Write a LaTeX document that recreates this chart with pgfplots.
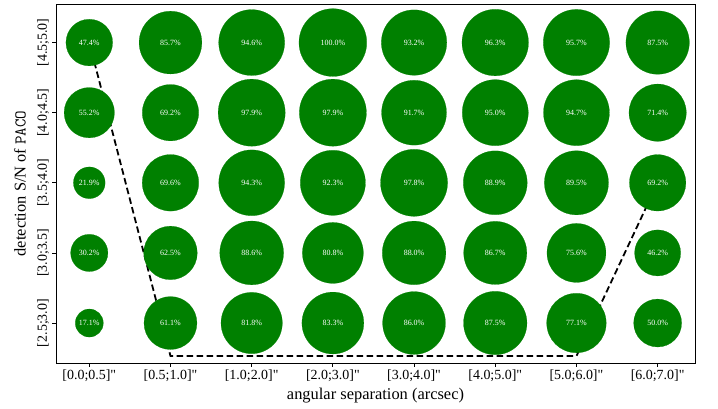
\documentclass[border=0pt]{standalone}
\usepackage{pgfplots}
\pgfplotsset{compat=1.18}
\usepackage{fontspec}
\setmainfont{Liberation Serif}
\newfontfamily\qfont{Liberation Serif}
\definecolor{mplgreen}{HTML}{008000}
\newcommand{\q}{{\qfont\symbol{34}}}
\begin{document}
\begin{tikzpicture}
\path[use as bounding box] (-56bp,-46bp) rectangle (662bp,363bp);
\begin{axis}[
  at={(0,0)}, anchor=south west,
  scale only axis, width=639bp, height=359bp,
  xmin=-0.41, xmax=7.46, ymin=-0.57, ymax=4.55,
  axis line style={line width=0.8bp, black},
  xtick={0,...,7}, ytick={0,...,4},
  xticklabels={{[0.0;0.5]\q},{[0.5;1.0]\q},{[1.0;2.0]\q},{[2.0;3.0]\q},{[3.0;4.0]\q},{[4.0;5.0]\q},{[5.0;6.0]\q},{[6.0;7.0]\q}},
  yticklabels={{[2.5;3.0]},{[3.0;3.5]},{[3.5;4.0]},{[4.0;4.5]},{[4.5;5.0]}},
  xtick pos=lower, ytick pos=left,
  tick align=outside, major tick length=3.5bp,
  every tick/.style={line width=0.8bp, black},
  ticklabel style={font=\fontsize{14}{16}\selectfont, text=black},
  yticklabel style={rotate=90, anchor=south},
  xlabel={angular separation (arcsec)},
  ylabel={detection S/N of \texttt{PACO}},
  label style={font=\fontsize{16.5}{18}\selectfont, text=black},
  xlabel style={at={(axis description cs:0.5,-0.103)}, anchor=base},
  ylabel style={at={(axis description cs:-0.0563,0.5)}, anchor=center},
  clip=false,
]
\addplot[black, line width=1.8bp, dash pattern=on 6.5bp off 3.5bp] coordinates {(0,4) (1,-0.47) (6,-0.47) (7,2)};
\addplot[
  scatter, only marks, mark=*,
  mark options={draw=mplgreen, fill=mplgreen, line width=0.2bp},
  scatter/use mapped color={draw=mplgreen, fill=mplgreen},
  visualization depends on={34*sqrt(\thisrow{p}/100) \as \rad},
  scatter/@pre marker code/.append style={/tikz/mark size=\rad},
  point meta=\thisrow{p},
] table {
x y p
0 4 47.4
1 4 85.7
2 4 94.6
3 4 100.0
4 4 93.2
5 4 96.3
6 4 95.7
7 4 87.5
0 3 55.2
1 3 69.2
2 3 97.9
3 3 97.9
4 3 91.7
5 3 95.0
6 3 94.7
7 3 71.4
0 2 21.9
1 2 69.6
2 2 94.3
3 2 92.3
4 2 97.8
5 2 88.9
6 2 89.5
7 2 69.2
0 1 30.2
1 1 62.5
2 1 88.6
3 1 80.8
4 1 88.0
5 1 86.7
6 1 75.6
7 1 46.2
0 0 17.1
1 0 61.1
2 0 81.8
3 0 83.3
4 0 86.0
5 0 87.5
6 0 77.1
7 0 50.0
};
\addplot[
  draw=none, mark=none,
  visualization depends on={value \thisrow{p} \as \pval},
  nodes near coords={\pval\%},
  every node near coord/.append style={anchor=center, text=white, font=\fontsize{8}{9}\selectfont},
] table {
x y p
0 4 47.4
1 4 85.7
2 4 94.6
3 4 100.0
4 4 93.2
5 4 96.3
6 4 95.7
7 4 87.5
0 3 55.2
1 3 69.2
2 3 97.9
3 3 97.9
4 3 91.7
5 3 95.0
6 3 94.7
7 3 71.4
0 2 21.9
1 2 69.6
2 2 94.3
3 2 92.3
4 2 97.8
5 2 88.9
6 2 89.5
7 2 69.2
0 1 30.2
1 1 62.5
2 1 88.6
3 1 80.8
4 1 88.0
5 1 86.7
6 1 75.6
7 1 46.2
0 0 17.1
1 0 61.1
2 0 81.8
3 0 83.3
4 0 86.0
5 0 87.5
6 0 77.1
7 0 50.0
};
\end{axis}
\end{tikzpicture}
\end{document}
